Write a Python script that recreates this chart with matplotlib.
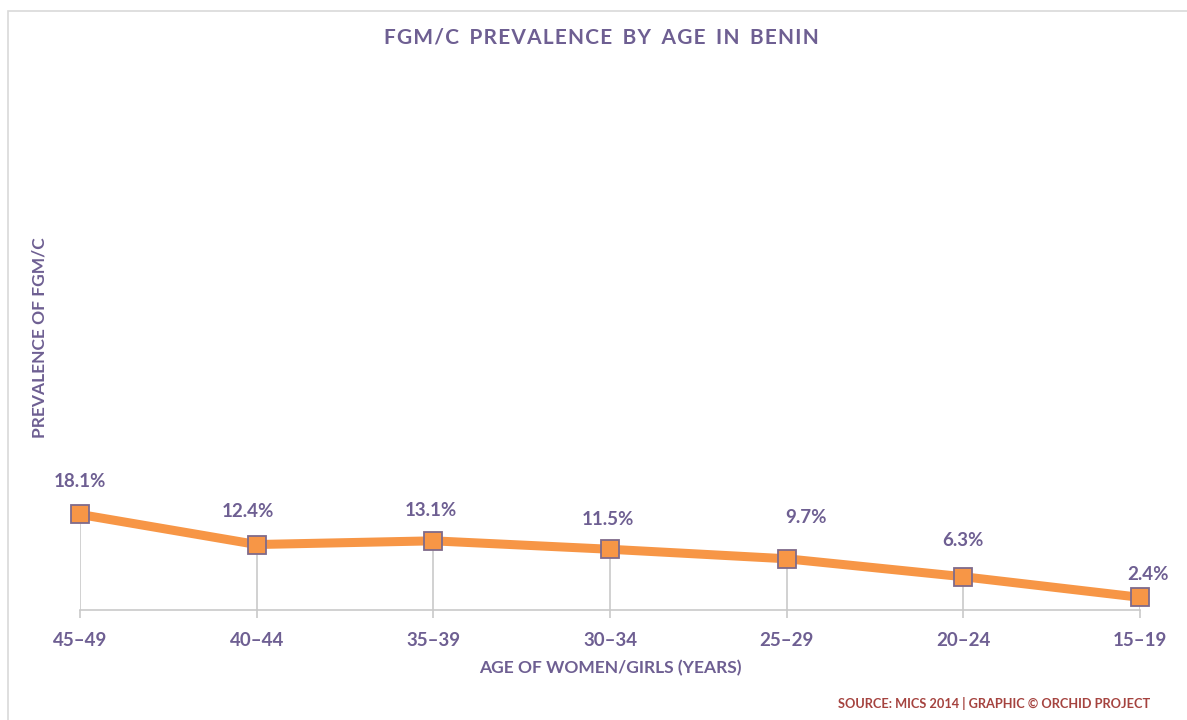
import matplotlib
matplotlib.use("Agg")
from matplotlib import pyplot as plt
from matplotlib.patches import Rectangle

age_groups = ["45\u201349", "40\u201344", "35\u201339", "30\u201334", "25\u201329", "20\u201324", "15\u201319"]
prevalence = [18.1, 12.4, 13.1, 11.5, 9.7, 6.3, 2.4]
value_labels = ["18.1%", "12.4%", "13.1%", "11.5%", "9.7%", "6.3%", "2.4%"]

purple = "#6e5f92"
orange = "#f79646"
grey = "#c9c9c9"

plt.rcParams["font.family"] = ["Lato", "DejaVu Sans"]

fig = plt.figure(figsize=(11.87, 7.2), dpi=100)
fig.patches.append(Rectangle((8 / 1187, -0.1), 1.2, 0.1 + (720 - 11) / 720,
                             transform=fig.transFigure, fill=False,
                             edgecolor="#d9d9d9", linewidth=1.2))

ax = fig.add_axes([80 / 1187, 110 / 720, 1060 / 1187, 528 / 720])
x = list(range(len(age_groups)))

# drop lines from each point to the axis
ax.vlines(x, 0, prevalence, colors=grey, linewidth=1.2, zorder=1)
ax.plot(x, prevalence, color=orange, linewidth=6.5, solid_capstyle="butt",
        marker="s", markersize=13, markerfacecolor=orange,
        markeredgecolor="#7f6a8a", markeredgewidth=1.3, clip_on=False, zorder=3)

# label placement (points) relative to each marker
label_dx = [0, -6, -1.5, -1.5, 14, 0, 6]
label_dy = [24, 24, 21.5, 21.5, 29.5, 26, 16.5]
for xi, yi, lab, dx, dy in zip(x, prevalence, value_labels, label_dx, label_dy):
    ax.annotate(lab, (xi, yi), xytext=(dx, dy), textcoords="offset points",
                ha="center", va="center", fontsize=13.5, fontweight="bold",
                color=purple)

ax.set_xlim(0, len(age_groups) - 1)
ax.set_ylim(0, 100)
for side in ["top", "right", "left"]:
    ax.spines[side].set_visible(False)
ax.spines["bottom"].set_color(grey)
ax.spines["bottom"].set_linewidth(1.2)
ax.set_yticks([])
ax.set_xticks(x)
ax.set_xticklabels(age_groups, fontsize=13.5, fontweight="bold", color=purple)
ax.tick_params(axis="x", length=6, width=1.2, color=grey, pad=10)

ax.set_xlabel("AGE OF WOMEN/GIRLS (YEARS)", fontsize=12.5, color=purple,
              fontweight="bold", labelpad=8)
fig.text(40 / 1187, 1 - 338 / 720, "PREVALENCE OF FGM/C", rotation=90,
         ha="center", va="center", fontsize=12.5, color=purple,
         fontweight="bold")

fig.text(601 / 1187, 1 - 38 / 720, "F G M / C   P R E V A L E N C E   B Y   A G E   I N   B E N I N".replace("   ", "\u2002").replace(" ", "\u200a"),
         ha="center", va="center", fontsize=15, fontweight="bold", color=purple)

fig.text(1150 / 1187, 1 - 703 / 720, "SOURCE: MICS 2014 | GRAPHIC \u00a9 ORCHID PROJECT",
         ha="right", va="center", fontsize=9.2, fontweight="bold", color="#a5433f")

fig.savefig("out.png", dpi=100)
